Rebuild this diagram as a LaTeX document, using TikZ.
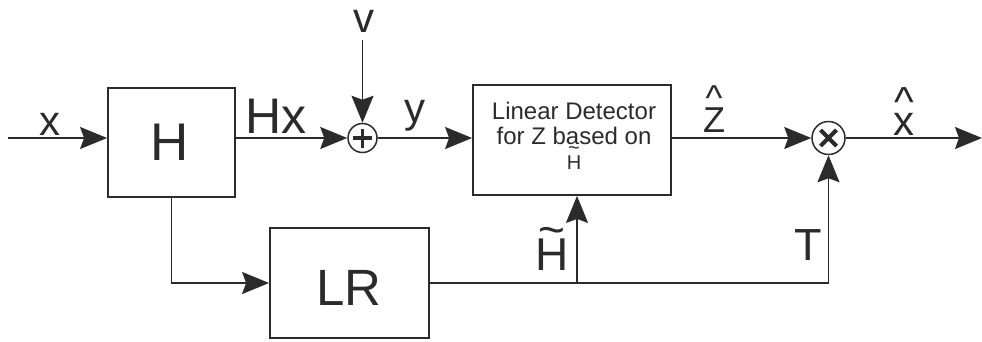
\documentclass[tikz,border=0pt]{standalone}
\usepackage{fontspec}
\setmainfont{Liberation Sans}
\usetikzlibrary{arrows.meta}
\definecolor{ink}{HTML}{2B2B2B}
\newcommand{\overmark}[3]{{\setbox0\hbox{#1}\rlap{\hbox to\wd0{\hss\raisebox{#3}{#2}\hss}}#1}}
\begin{document}
\begin{tikzpicture}[x=1pt,y=-1pt,line width=1.8pt,draw=ink,text=ink,
  arr/.style={-{Stealth[length=27pt,width=22pt,inset=4pt]}},
  blk/.style={draw,rectangle,inner sep=0pt},
  junc/.style={draw,circle,inner sep=0pt,line width=1.5pt},
  lbl/.style={inner sep=0pt,anchor=base}]
\useasboundingbox (0,0) rectangle (982,341);
% blocks
\node[blk,minimum width=127pt,minimum height=109pt] (H) at (171.5,142.5) {};
\node[lbl,font=\fontsize{53}{53}\selectfont] (Hlbl) at (169.5,160) {H};
\node[blk,minimum width=198pt,minimum height=110pt] (det) at (572,140) {};
\node[inner sep=0pt,align=center,font=\fontsize{24}{25}\selectfont] (dettxt) at (574,136)
  {Linear Detector\\for Z based on\\{\fontsize{20}{25}\selectfont\overmark{H}{\textasciitilde}{0.75em}}};
\node[blk,minimum width=159pt,minimum height=110pt] (LR) at (349.5,283) {};
\node[lbl,font=\fontsize{51}{51}\selectfont] (LRlbl) at (349,305) {LR};
% junctions
\node[junc,minimum size=29pt] (sum) at (362.5,138) {};
\draw[line width=3.8pt] ([xshift=-9.5pt]sum.center) -- ([xshift=9.5pt]sum.center)
  ([yshift=-9.5pt]sum.center) -- ([yshift=9.5pt]sum.center);
\node[junc,minimum size=33pt] (mul) at (828.5,138) {};
\draw[line width=4.2pt] ([shift={(-8,-8)}]mul.center) -- ([shift={(8,8)}]mul.center)
  ([shift={(-8,8)}]mul.center) -- ([shift={(8,-8)}]mul.center);
% coordinates
\coordinate (in) at (8,138);
\coordinate (vin) at (362.5,40);
\coordinate (out) at (982,138);
\coordinate (tc) at (828.5,283);
\coordinate (br) at (577,283);
% connectors
\draw[arr] (in) -- (H.west |- in);
\draw[arr] (H.east |- in) -- (sum);
\draw[arr] (vin) -- (sum);
\draw[arr] (sum) -- (det.west |- sum);
\draw[arr] (det.east |- mul) -- (mul);
\draw[arr] (mul) -- (out);
\draw[arr] (H.south) |- (LR.west);
\draw (LR.east) -- (tc);
\draw[arr] (tc) -- (mul);
\draw[arr] (br) -- (det.south -| br);
% labels
\node[lbl,font=\fontsize{42}{42}\selectfont] (xl) at (50,135) {x};
\node[lbl,font=\fontsize{50}{50}\selectfont] (Hxl) at (276,133) {Hx};
\node[lbl,font=\fontsize{42}{42}\selectfont] (vl) at (364,32) {v};
\node[lbl,font=\fontsize{42}{42}\selectfont] (yl) at (415,122) {y};
\node[lbl,font=\fontsize{36}{36}\selectfont] (zl) at (714,132) {\overmark{Z}{\textasciicircum}{0.6em}};
\node[lbl,font=\fontsize{42}{42}\selectfont] (xhl) at (904,135) {\overmark{x}{\textasciicircum}{0.43em}};
\node[lbl,font=\fontsize{46}{46}\selectfont] (Htl) at (552,270) {\overmark{H}{\textasciitilde}{0.53em}};
\node[lbl,font=\fontsize{45}{45}\selectfont] (Tl) at (808,260) {T};
\end{tikzpicture}
\end{document}
